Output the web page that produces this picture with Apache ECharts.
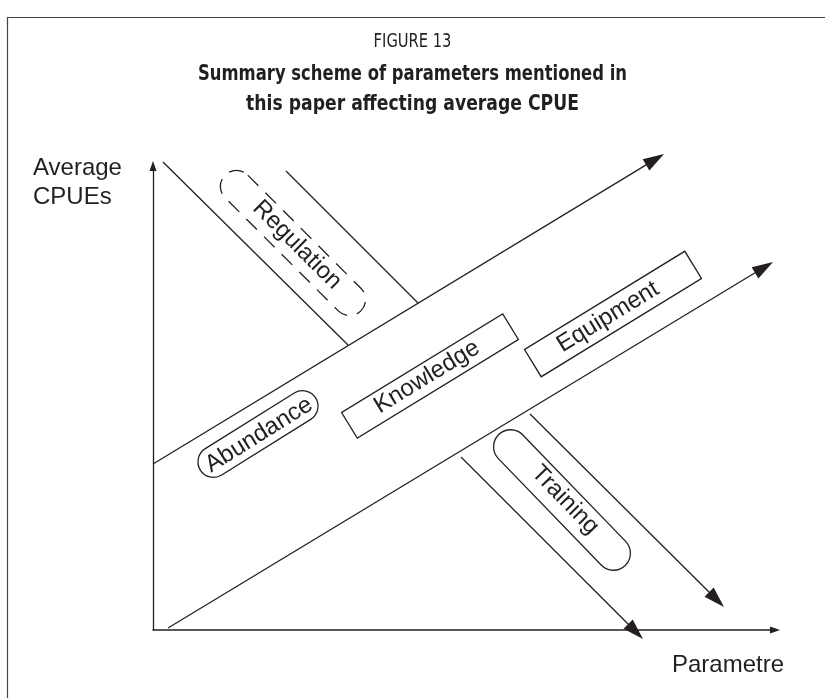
<!DOCTYPE html>
<html><head><meta charset="utf-8">
<script src="https://cdn.jsdelivr.net/npm/echarts@6/dist/echarts.min.js"></script>
<style>html,body{margin:0;padding:0;background:#fff}#chart{width:825px;height:698px}</style>
</head><body><div id="chart"></div>
<script>
// ---- Scheme data (axis units) ----
const titleMain = 'FIGURE 13';
const titleSubLines = ['Summary scheme of parameters mentioned in', 'this paper affecting average CPUE'];
const yAxisName = 'Average\nCPUEs';
const xAxisName = 'Parametre';
const xAxisRange = [0, 622];
const yAxisRange = [0, 464];

// Arrowed lines
const arrowNames = ['Upper band', 'Lower band', 'Training left', 'Training right'];
const arrowStart = [[0, 166], [15, 2], [308, 173], [377, 216]];
const arrowEnd = [[511, 476], [620, 368], [490, -9], [571, 23]];

// Plain lines (Regulation band)
const lineNames = ['Regulation left', 'Regulation right'];
const lineStart = [[10, 468], [133, 459]];
const lineEnd = [[195, 285], [265, 327]];

// Labelled boxes
const boxLabels = ['Regulation', 'Abundance', 'Knowledge', 'Equipment', 'Training'];
const boxCenters = [[140, 387], [105, 196], [277, 254], [460, 316], [409, 130]];
const labelCenters = [[144, 385], [106, 195], [274, 253], [455, 313], [412, 130]];
const boxAngles = [-45, 32, 31.5, 31.5, -46];

// ---- Styles ----
const ink = '#231f20';
const boxStyles = {
  Regulation: { w: 192, h: 32, r: 16, dash: [15, 10] },
  Abundance: { w: 136, h: 31, r: 15.5 },
  Knowledge: { w: 189, h: 30, r: 0 },
  Equipment: { w: 188, h: 32, r: 0 },
  Training: { w: 182, h: 34, r: 17 }
};
const labelFont = '24px "Liberation Sans", Arial, sans-serif';
const titleFamily = '"DejaVu Sans Condensed", "DejaVu Sans", sans-serif';

const chart = echarts.init(document.getElementById('chart'), null, { renderer: 'canvas' });

function lineItem(params, api, withArrow) {
  const p1 = api.coord([api.value(0), api.value(1)]);
  const p2 = api.coord([api.value(2), api.value(3)]);
  const dx = p2[0] - p1[0], dy = p2[1] - p1[1];
  const len = Math.hypot(dx, dy), ux = dx / len, uy = dy / len;
  const children = [];
  if (withArrow) {
    const L = 21, W = 6.5;
    const bx = p2[0] - ux * L, by = p2[1] - uy * L;
    children.push({ type: 'line', shape: { x1: p1[0], y1: p1[1], x2: bx + ux * 3, y2: by + uy * 3 },
      style: { stroke: ink, lineWidth: 1.3 } });
    children.push({ type: 'polygon', shape: { points: [[p2[0], p2[1]], [bx - uy * W, by + ux * W], [bx + uy * W, by - ux * W]] },
      style: { fill: ink } });
  } else {
    children.push({ type: 'line', shape: { x1: p1[0], y1: p1[1], x2: p2[0], y2: p2[1] },
      style: { stroke: ink, lineWidth: 1.3 } });
  }
  return { type: 'group', children };
}

const option = {
  backgroundColor: '#fff',
  animation: false,
  grid: { left: 153, right: 50, top: 166, bottom: 68, containLabel: false },
  xAxis: {
    type: 'value', min: xAxisRange[0], max: xAxisRange[1],
    axisLine: { show: true, symbol: ['none', 'triangle'], symbolSize: [7, 10], lineStyle: { color: ink, width: 1.5 } },
    axisTick: { show: false }, axisLabel: { show: false }, splitLine: { show: false }
  },
  yAxis: {
    type: 'value', min: yAxisRange[0], max: yAxisRange[1],
    axisLine: { show: true, symbol: ['none', 'triangle'], symbolSize: [7, 10], lineStyle: { color: ink, width: 1.3 } },
    axisTick: { show: false }, axisLabel: { show: false }, splitLine: { show: false }
  },
  graphic: [
    { type: 'line', shape: { x1: 7.5, y1: 17, x2: 7.5, y2: 698 }, style: { stroke: '#444', lineWidth: 1.2 } },
    { type: 'line', shape: { x1: 7, y1: 17.5, x2: 825, y2: 17.5 }, style: { stroke: '#444', lineWidth: 1.2 } },
    { type: 'text', x: 412.5, y: 42, scaleX: 0.86,
      style: { text: titleMain, font: 'normal 19px ' + titleFamily, fill: ink, align: 'center', verticalAlign: 'middle' } },
    { type: 'text', x: 412.5, y: 74, scaleX: 0.83,
      style: { text: titleSubLines[0], font: 'bold 22px ' + titleFamily, fill: ink, align: 'center', verticalAlign: 'middle' } },
    { type: 'text', x: 412.5, y: 104, scaleX: 0.87,
      style: { text: titleSubLines[1], font: 'bold 22px ' + titleFamily, fill: ink, align: 'center', verticalAlign: 'middle' } },
    { type: 'text', left: 33, top: 154, style: { text: yAxisName, font: labelFont, fill: ink, lineHeight: 29 } },
    { type: 'text', left: 672, top: 653, style: { text: xAxisName, font: labelFont, fill: ink } }
  ],
  series: [
    {
      name: 'lines', type: 'custom', coordinateSystem: 'cartesian2d', silent: true, clip: false,
      data: lineNames.map((n, i) => ({ name: n, value: [lineStart[i][0], lineStart[i][1], lineEnd[i][0], lineEnd[i][1]] })),
      encode: { x: [0, 2], y: [1, 3] },
      renderItem: (p, api) => lineItem(p, api, false)
    },
    {
      name: 'arrows', type: 'custom', coordinateSystem: 'cartesian2d', silent: true, clip: false,
      data: arrowNames.map((n, i) => ({ name: n, value: [arrowStart[i][0], arrowStart[i][1], arrowEnd[i][0], arrowEnd[i][1]] })),
      encode: { x: [0, 2], y: [1, 3] },
      renderItem: (p, api) => lineItem(p, api, true)
    },
    {
      name: 'boxes', type: 'custom', coordinateSystem: 'cartesian2d', silent: true, clip: false,
      data: boxLabels.map((n, i) => ({ name: n, value: [boxCenters[i][0], boxCenters[i][1], labelCenters[i][0], labelCenters[i][1], boxAngles[i]] })),
      encode: { x: [0, 2], y: [1, 3] },
      renderItem: (params, api) => {
        const name = boxLabels[params.dataIndex];
        const st = boxStyles[name];
        const c = api.coord([api.value(0), api.value(1)]);
        const t = api.coord([api.value(2), api.value(3)]);
        const rot = api.value(4) * Math.PI / 180;
        return {
          type: 'group',
          children: [
            { type: 'rect', x: c[0], y: c[1], rotation: rot,
              shape: { x: -st.w / 2, y: -st.h / 2, width: st.w, height: st.h, r: st.r },
              style: { fill: null, stroke: ink, lineWidth: 1.3, lineDash: st.dash || null } },
            { type: 'text', x: t[0], y: t[1], rotation: rot,
              style: { text: name, font: labelFont, fill: ink, align: 'center', verticalAlign: 'middle' } }
          ]
        };
      }
    }
  ]
};
chart.setOption(option);
</script>
</body></html>
